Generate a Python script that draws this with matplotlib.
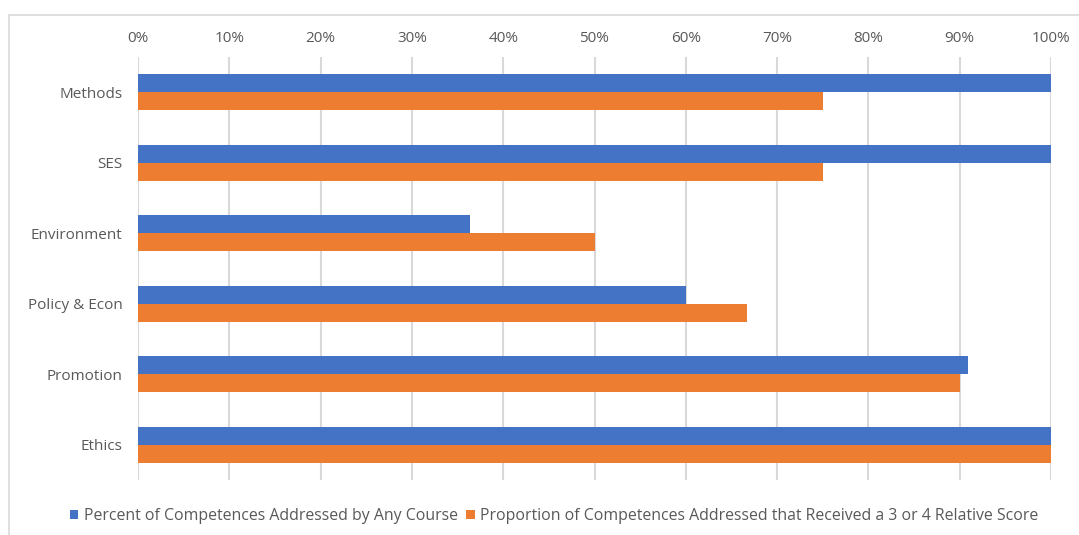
import matplotlib
matplotlib.use("Agg")
import matplotlib.pyplot as plt
from matplotlib.patches import Rectangle
import numpy as np

categories = ["Methods", "SES", "Environment", "Policy & Econ", "Promotion", "Ethics"]
any_course = [1.0, 1.0, 0.364, 0.60, 0.909, 1.0]
score_3_4 = [0.75, 0.75, 0.50, 0.667, 0.90, 1.0]
series_names = ["Percent of Competences Addressed by Any Course",
                "Proportion of Competences Addressed that Received a 3 or 4 Relative Score"]
xticks = np.arange(0, 1.01, 0.1)
xtick_labels = [f"{int(round(t*100))}%" for t in xticks]

plt.rcParams['font.family'] = ['Open Sans', 'DejaVu Sans']
txt = "#595959"

fig = plt.figure(figsize=(10.79, 5.35), dpi=100)
fig.patches.append(Rectangle((9/1079, -0.02), 1.1, (535-15)/535 + 0.02, transform=fig.transFigure,
                             fill=False, edgecolor="#d9d9d9", linewidth=1.2))
ax = fig.add_axes([138/1079, 55/535, 913/1079, 423/535])

y = np.arange(len(categories))
h = 0.255
ax.barh(y - h/2, any_course, height=h, color="#4472C4", label=series_names[0], zorder=3)
ax.barh(y + h/2, score_3_4, height=h, color="#ED7D31", label=series_names[1], zorder=3)

ax.set_xlim(0, 1)
ax.set_ylim(len(categories) - 0.5, -0.5)
ax.set_yticks(y)
ax.set_yticklabels(categories, fontsize=11, color=txt)
ax.set_xticks(xticks)
ax.set_xticklabels(xtick_labels, fontsize=11, color=txt)
ax.xaxis.tick_top()
ax.tick_params(axis='both', length=0)
ax.tick_params(axis='x', pad=8)
ax.tick_params(axis='y', pad=11)
ax.grid(axis='x', color="#d9d9d9", linewidth=1.5, zorder=0)
for s in ax.spines.values():
    s.set_visible(False)

leg = fig.legend(loc='center', bbox_to_anchor=(554/1079, 1 - 516/535), ncol=2, frameon=False,
                 fontsize=11.4, handlelength=0.55, handleheight=0.55, handletextpad=0.35,
                 columnspacing=0.5)
for t in leg.get_texts():
    t.set_color(txt)

fig.savefig("out.png", dpi=100)
